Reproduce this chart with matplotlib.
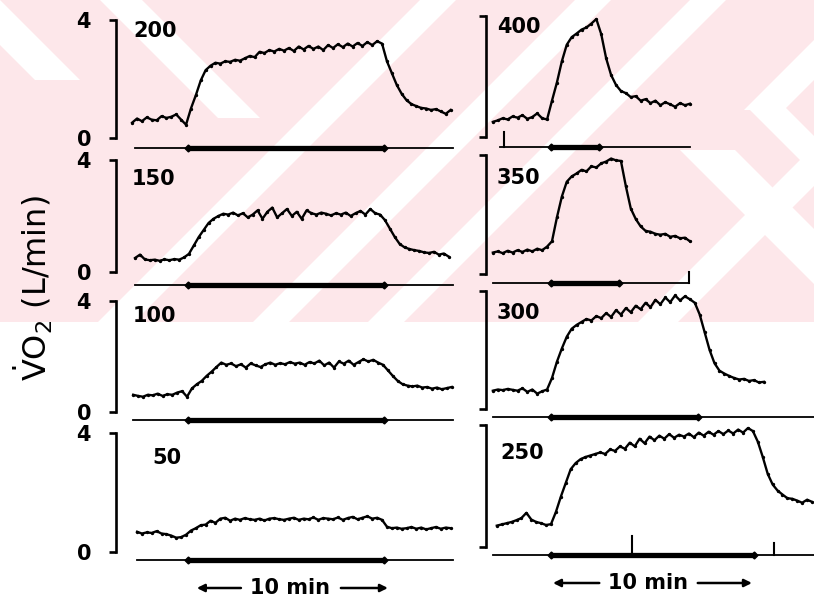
import numpy as np
import matplotlib
matplotlib.use("Agg")
import matplotlib.pyplot as plt
from matplotlib.patches import Polygon, Rectangle

W, H = 814, 603

# ---------------- data (VO2, L/min; time in min from exercise onset) ----------------
step = 0.25  # sampling interval of the read-off traces (min)

labels_left = ["200", "150", "100", "50"]
labels_right = ["400", "350", "300", "250"]

t0_200 = -2.85
vo2_200 = [0.52, 0.66, 0.57, 0.70, 0.62, 0.60, 0.74, 0.68, 0.72, 0.80, 0.62, 0.45,
           1.00, 1.45, 1.95, 2.30, 2.45, 2.55, 2.52, 2.60, 2.58, 2.65, 2.62, 2.70,
           2.78, 2.74, 2.92, 2.88, 2.98, 2.93, 3.02, 2.96, 3.05, 2.95, 3.10, 3.00,
           3.12, 3.02, 3.10, 2.98, 3.15, 3.05, 3.18, 3.08, 3.20, 3.10, 3.22, 3.12,
           3.25, 3.15, 3.28, 3.20, 2.60, 2.20, 1.80, 1.50, 1.28, 1.15, 1.08, 1.02,
           1.00, 0.95, 0.98, 0.90, 0.82, 0.95]

t0_150 = -2.7
vo2_150 = [0.50, 0.62, 0.45, 0.42, 0.44, 0.40, 0.45, 0.42, 0.46, 0.44, 0.52,
           0.65, 0.95, 1.25, 1.50, 1.75, 1.90, 2.00, 2.08, 2.05, 2.12, 2.02, 2.10,
           1.95, 2.05, 2.20, 1.90, 2.15, 2.30, 1.95, 2.10, 2.25, 2.00, 2.15, 1.90,
           2.20, 2.10, 2.05, 2.12, 2.08, 2.02, 2.10, 2.05, 2.12, 2.00, 2.10, 2.18,
           2.05, 2.25, 2.10, 2.05, 1.85, 1.55, 1.25, 1.00, 0.88, 0.82, 0.78, 0.75,
           0.70, 0.68, 0.72, 0.62, 0.66, 0.55]

t0_100 = -2.8
vo2_100 = [0.62, 0.58, 0.55, 0.62, 0.60, 0.66, 0.58, 0.64, 0.62, 0.70, 0.75, 0.55,
           0.85, 1.00, 1.12, 1.30, 1.45, 1.62, 1.78, 1.70, 1.75, 1.65, 1.72, 1.60,
           1.75, 1.68, 1.62, 1.72, 1.78, 1.70, 1.76, 1.72, 1.80, 1.74, 1.78, 1.70,
           1.80, 1.75, 1.85, 1.68, 1.78, 1.60, 1.82, 1.74, 1.85, 1.70, 1.80, 1.90,
           1.82, 1.88, 1.78, 1.70, 1.50, 1.30, 1.12, 1.00, 0.95, 0.92, 0.95, 0.88,
           0.90, 0.84, 0.88, 0.82, 0.86, 0.90]

t0_50 = -2.6
vo2_50 = [0.68, 0.62, 0.66, 0.64, 0.70, 0.62, 0.60, 0.55, 0.48, 0.50, 0.58,
          0.72, 0.80, 0.90, 0.92, 1.05, 0.98, 1.12, 1.15, 1.05, 1.12, 1.08, 1.14,
          1.10, 1.08, 1.12, 1.06, 1.12, 1.14, 1.10, 1.08, 1.12, 1.15, 1.08, 1.12,
          1.10, 1.16, 1.08, 1.14, 1.12, 1.10, 1.16, 1.08, 1.14, 1.18, 1.10, 1.15,
          1.20, 1.12, 1.15, 1.08, 0.85, 0.80, 0.82, 0.78, 0.80, 0.84, 0.78, 0.82,
          0.76, 0.80, 0.84, 0.78, 0.82, 0.80]

t0_400 = -2.95
vo2_400 = [0.50, 0.55, 0.62, 0.58, 0.68, 0.64, 0.72, 0.60, 0.66, 0.78, 0.62, 0.58,
           1.20, 1.80, 2.50, 3.05, 3.30, 3.42, 3.55, 3.62, 3.75, 3.90, 3.40, 2.60,
           2.05, 1.72, 1.52, 1.45, 1.32, 1.35, 1.20, 1.25, 1.12, 1.20, 1.05, 1.15,
           1.08, 1.00, 1.12, 1.05, 1.10]

t0_350 = -2.95
vo2_350 = [0.72, 0.76, 0.70, 0.78, 0.72, 0.80, 0.74, 0.82, 0.76, 0.85, 0.80, 0.92,
           1.10, 1.90, 2.60, 3.10, 3.28, 3.38, 3.50, 3.45, 3.62, 3.58, 3.72, 3.78,
           3.88, 3.82, 3.80, 2.95, 2.20, 1.85, 1.60, 1.45, 1.42, 1.35, 1.32, 1.35,
           1.25, 1.28, 1.20, 1.22, 1.10]

t0_300 = -2.95
vo2_300 = [0.62, 0.66, 0.64, 0.68, 0.65, 0.62, 0.70, 0.58, 0.66, 0.52, 0.60, 0.66,
           1.05, 1.60, 2.05, 2.45, 2.72, 2.85, 2.95, 3.05, 3.00, 3.15, 3.08, 3.25,
           3.12, 3.35, 3.20, 3.42, 3.28, 3.50, 3.38, 3.60, 3.45, 3.70, 3.55, 3.78,
           3.62, 3.85, 3.68, 3.82, 3.72, 3.60, 3.20, 2.60, 2.00, 1.55, 1.30, 1.20,
           1.12, 1.05, 1.00, 1.02, 0.95, 0.98, 0.90, 0.92]

t0_250 = -2.75
vo2_250 = [0.70, 0.74, 0.78, 0.82, 0.88, 0.95, 1.12, 0.90, 0.82, 0.78, 0.72, 0.75,
           1.15, 1.65, 2.10, 2.55, 2.75, 2.88, 2.95, 3.00, 3.05, 3.10, 3.05, 3.20,
           3.15, 3.30, 3.22, 3.42, 3.30, 3.55, 3.40, 3.62, 3.50, 3.65, 3.55, 3.70,
           3.58, 3.68, 3.62, 3.72, 3.60, 3.75, 3.65, 3.78, 3.68, 3.80, 3.70, 3.82,
           3.72, 3.85, 3.75, 3.90, 3.80, 3.45, 2.95, 2.40, 2.05, 1.85, 1.72, 1.60,
           1.58, 1.52, 1.45, 1.55, 1.48]

# exercise duration (min) and extent of the time-marker line (min)
exercise_left = [10.0, 10.0, 10.0, 10.0]
exercise_right = [2.45, 3.45, 7.45, 10.3]
marker_span_left = [(-2.7, 13.5), (-2.7, 13.5), (-2.8, 13.5), (-2.6, 13.5)]
marker_span_right = [(-2.6, 7.05), (-2.95, 7.0), (-2.95, 13.4), (-2.95, 13.4)]
# event ticks on the marker line: (time, height in L/min)
event_ticks_right = [[(-2.4, 0.5)], [(7.0, 0.37)], [], [(4.1, 0.62), (11.3, 0.4)]]

traces_left = [(t0_200, vo2_200), (t0_150, vo2_150), (t0_100, vo2_100), (t0_50, vo2_50)]
traces_right = [(t0_400, vo2_400), (t0_350, vo2_350), (t0_300, vo2_300), (t0_250, vo2_250)]

# ---------------- layout (pixels) ----------------
# (y of 4 L/min, y of 0 L/min, y of marker line, label x, label y)
rows_left = [(20, 138, 148, 133, 31), (160, 272, 285, 132, 179),
             (301, 412, 420, 133, 316), (433, 552, 560, 152, 458)]
rows_right = [(16, 137, 147, 497, 27), (155, 274, 283, 497, 178),
              (291, 409, 417, 497, 313), (425, 547, 555, 500, 453)]
cols = {"left": dict(xs=116, x0=188, xr=462, ppm=19.6),
        "right": dict(xs=486, x0=551, xr=814, ppm=19.7)}

FONT = "DejaVu Sans"
fig = plt.figure(figsize=(W / 100, H / 100), dpi=100)
fig.patch.set_facecolor("white")

# ---- faint pink watermark background ----
pink = "#fde7ea"
bg = Rectangle((0, 1 - 322 / H), 1, 322 / H, transform=fig.transFigure,
               facecolor=pink, edgecolor="none", zorder=-10)
fig.patches.append(bg)


def px_poly(pts):
    return [(x / W, 1 - y / H) for x, y in pts]


stripes = []
# "\" white stripes: (x at y=y0, y0, width, length)
for x, y0, w, L in [(-45, 0, 45, 80), (100, 0, 42, 118), (680, 150, 55, 180),
                    (747, 107, 38, 70)]:
    stripes.append([(x, y0), (x + w, y0), (x + w + L, y0 + L), (x + L, y0 + L)])
# "/" white stripes: (x at y=y0, y0, width, length)
for x, y0, w, L in [(420, 0, 36, 330), (575, 0, 36, 330), (690, 0, 36, 330),
                    (854, 0, 40, 110), (960, 0, 40, 330)]:
    stripes.append([(x, y0), (x + w, y0), (x + w - L, y0 + L), (x - L, y0 + L)])
for s in stripes:
    p = Polygon(px_poly(s), closed=True, transform=fig.transFigure,
                facecolor="white", edgecolor="none", zorder=-9)
    p.set_clip_path(bg)
    fig.patches.append(p)

YLO, YHI = -1.45, 4.3


def make_ax(col, top4, bot0):
    c = cols[col]
    ppu = (bot0 - top4) / 4.0
    yb = bot0 - YLO * ppu
    yt = top4 - (YHI - 4) * ppu
    ax = fig.add_axes([c["xs"] / W, 1 - yb / H, (c["xr"] - c["xs"]) / W, (yb - yt) / H])
    ax.set_xlim(-(c["x0"] - c["xs"]) / c["ppm"], (c["xr"] - c["x0"]) / c["ppm"])
    ax.set_ylim(YLO, YHI)
    ax.patch.set_alpha(0)
    for s in ["top", "right", "bottom"]:
        ax.spines[s].set_visible(False)
    ax.spines["left"].set_bounds(0, 4)
    ax.spines["left"].set_linewidth(1.9)
    ax.set_xticks([])
    ax.set_yticks([0, 4])
    ax.tick_params(axis="y", direction="out", length=5, width=1.9, pad=13,
                   labelsize=15, labelleft=(col == "left"))
    for lab in ax.get_yticklabels():
        lab.set_fontweight("bold")
        lab.set_family(FONT)
    return ax, ppu


def draw(ax, ppu, t0, vals, ex, span, base_off_px, events):
    t = t0 + step * np.arange(len(vals))
    ax.plot(t, vals, color="black", lw=1.7, solid_joinstyle="round", clip_on=False)
    ax.plot(t, vals, ".", color="black", ms=2.8, clip_on=False)
    by = -base_off_px / ppu
    ax.plot(span, [by, by], color="black", lw=1.3, clip_on=False)
    ax.plot([0, ex], [by, by], color="black", lw=3.8, solid_capstyle="butt", clip_on=False)
    ax.plot([0, ex], [by, by], "D", color="black", ms=3.5, clip_on=False)
    for te, hgt in events:
        ax.plot([te, te], [by, by + hgt], color="black", lw=1.5, clip_on=False)
    return by


axes_left, axes_right = [], []
for i in range(4):
    top4, bot0, base, lx, ly = rows_left[i]
    ax, ppu = make_ax("left", top4, bot0)
    t0, v = traces_left[i]
    draw(ax, ppu, t0, v, exercise_left[i], marker_span_left[i], base - bot0, [])
    fig.text(lx / W, 1 - ly / H, labels_left[i], fontsize=15, fontweight="bold",
             family=FONT, ha="left", va="center")
    axes_left.append((ax, ppu, bot0))

for i in range(4):
    top4, bot0, base, lx, ly = rows_right[i]
    ax, ppu = make_ax("right", top4, bot0)
    t0, v = traces_right[i]
    draw(ax, ppu, t0, v, exercise_right[i], marker_span_right[i], base - bot0,
         event_ticks_right[i])
    fig.text(lx / W, 1 - ly / H, labels_right[i], fontsize=15, fontweight="bold",
             family=FONT, ha="left", va="center")
    axes_right.append((ax, ppu, bot0))


def ten_min(ax, ppu, bot0, y_px, t_a, t_b, t_txt, t_l, t_r):
    y = -(y_px - bot0) / ppu
    ax.text(t_txt, y, "10 min", fontsize=15, fontweight="bold", family=FONT,
            ha="center", va="center", clip_on=False)
    ap = dict(arrowstyle="-|>", lw=1.8, color="black", mutation_scale=11,
              shrinkA=0, shrinkB=0)
    ax.annotate("", xy=(t_a, y), xytext=(t_l, y), arrowprops=ap, annotation_clip=False)
    ax.annotate("", xy=(t_b, y), xytext=(t_r, y), arrowprops=ap, annotation_clip=False)


axl, ppul, bl = axes_left[3]
ten_min(axl, ppul, bl, 588, 0.45, 10.2, 5.2, 2.7, 7.8)
axr, ppur, br = axes_right[3]
ten_min(axr, ppur, br, 583, 0.1, 10.2, 4.9, 2.45, 7.45)

fig.text(33 / W, 1 - 288 / H, r"$\dot{\rm V}{\rm O}_2$ (L/min)", rotation=90,
         fontsize=23, family=FONT, ha="center", va="center")

fig.savefig("out.png", dpi=100)
